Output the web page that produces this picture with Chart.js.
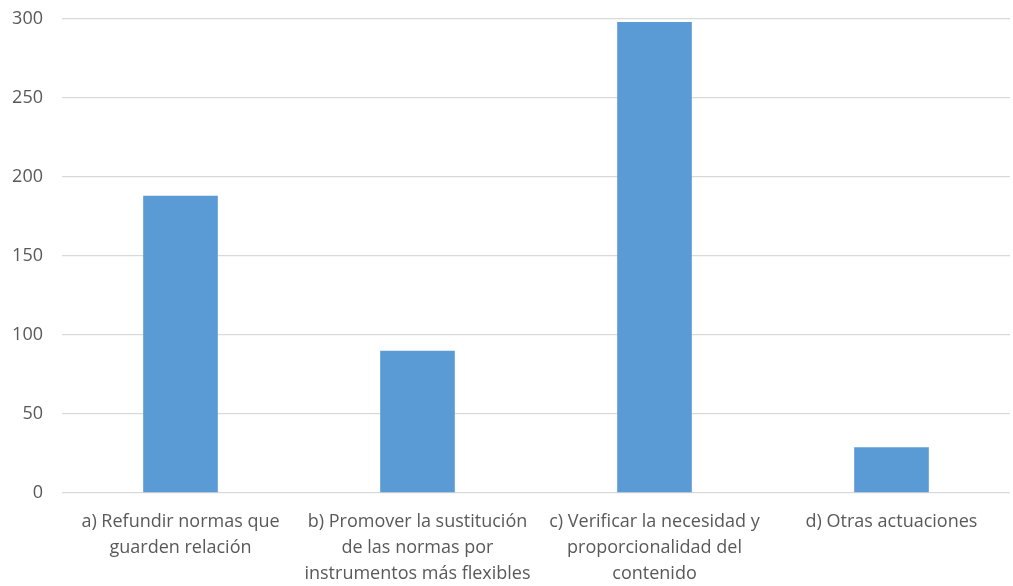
<!DOCTYPE html>
<html>
<head>
<meta charset="utf-8">
<script src="https://cdn.jsdelivr.net/npm/chart.js@4/dist/chart.umd.min.js"></script>
<style>
  html, body { margin: 0; padding: 0; background: #fff; overflow: hidden; }
  #wrap { width: 1013px; height: 597px; margin-top: -11px; }
</style>
</head>
<body>
<div id="wrap"><canvas id="chart"></canvas></div>
<script>
// Categories (wrapped as in the reference)
const categories = [
  ['a) Refundir normas que', 'guarden relación'],
  ['b) Promover la sustitución', 'de las normas por', 'instrumentos más flexibles'],
  ['c) Verificar la necesidad y', 'proporcionalidad del', 'contenido'],
  ['d) Otras actuaciones']
];
const values = [188, 90, 298, 29];
const yTicks = [0, 50, 100, 150, 200, 250, 300];

const FONT = "'Open Sans', 'Liberation Sans', sans-serif";

new Chart(document.getElementById('chart'), {
  type: 'bar',
  data: {
    labels: categories,
    datasets: [{
      data: values,
      backgroundColor: '#5b9bd5',
      borderWidth: 0,
      categoryPercentage: 1,
      barPercentage: 0.315
    }]
  },
  options: {
    responsive: true,
    maintainAspectRatio: false,
    animation: false,
    layout: { padding: { left: 0, right: 3, top: 0, bottom: 0 } },
    plugins: { legend: { display: false }, tooltip: { enabled: false } },
    scales: {
      y: {
        min: 0,
        max: 300,
        afterBuildTicks: (axis) => { axis.ticks = yTicks.map(v => ({ value: v })); },
        afterFit: (axis) => { axis.width = 62; },
        border: { display: false },
        grid: { color: '#d9d9d9', lineWidth: 1.3, drawTicks: false },
        ticks: { color: '#595959', font: { family: FONT, size: 18 }, padding: 19 }
      },
      x: {
        afterFit: (axis) => { axis.height = 93; },
        border: { display: false },
        grid: { display: false, drawTicks: false },
        ticks: {
          color: '#595959',
          font: { family: FONT, size: 18, lineHeight: 1.45 },
          padding: 16,
          maxRotation: 0,
          autoSkip: false
        }
      }
    }
  }
});
</script>
</body>
</html>
